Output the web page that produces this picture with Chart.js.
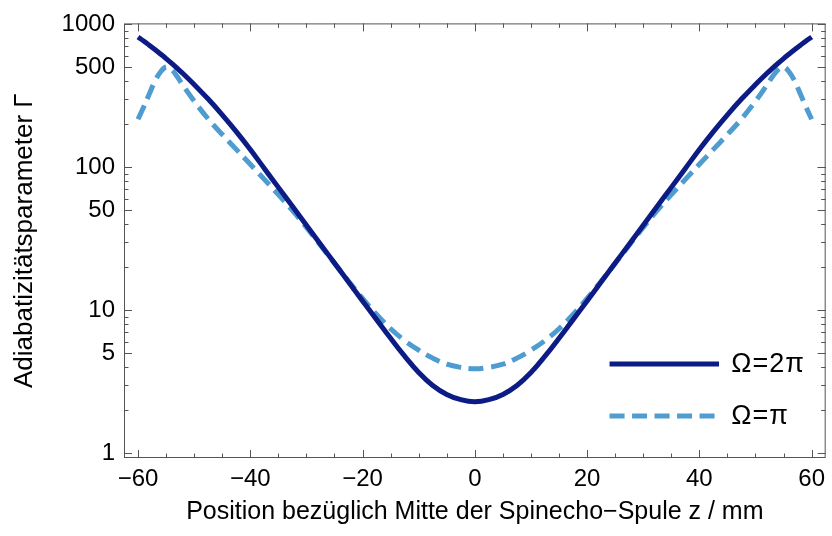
<!DOCTYPE html>
<html>
<head>
<meta charset="utf-8">
<script src="https://cdn.jsdelivr.net/npm/chart.js@4.4.1/dist/chart.umd.min.js"></script>
<style>
  html, body { margin: 0; padding: 0; background: #fff; }
  #c { display: block; }
</style>
</head>
<body>
<canvas id="c" width="832" height="536"></canvas>
<script>
// z position in mm
const positions = [
  -60, -59, -58, -57, -56, -55, -54, -53, -52, -50, -47.5, -45, -42.5, -40, -37.5,
  -35, -32.5, -30, -27.5, -25, -22.5, -20, -17.5, -15, -12.5, -10, -7.5, -5, -2.5,
  0,
  2.5, 5, 7.5, 10, 12.5, 15, 17.5, 20, 22.5, 25, 27.5, 30, 32.5, 35, 37.5,
  40, 42.5, 45, 47.5, 50, 52, 53, 54, 55, 56, 57, 58, 59, 60
];
// adiabaticity parameter, Omega = 2 pi
const gamma2Pi = [
  812, 762, 712, 664, 618, 574, 531, 490, 451, 378, 299, 232, 177, 132.7, 97.8,
  72.1, 53.2, 39.2, 28.9, 21.3, 15.69, 11.56, 8.57, 6.35, 4.76, 3.66, 2.97, 2.57, 2.36,
  2.28,
  2.36, 2.57, 2.97, 3.66, 4.76, 6.35, 8.57, 11.56, 15.69, 21.3, 28.9, 39.2, 53.2, 72.1, 97.8,
  132.7, 177, 232, 299, 378, 451, 490, 531, 574, 618, 664, 712, 762, 812
];
// adiabaticity parameter, Omega = pi
const gammaPi = [
  216, 263, 324, 398, 462, 501, 479, 428, 373, 289, 217, 169, 133, 104.5, 82,
  64.1, 49.7, 37.9, 28.4, 21.2, 15.9, 12.06, 9.31, 7.4, 6.12, 5.24, 4.61, 4.18, 3.97,
  3.88,
  3.97, 4.18, 4.61, 5.24, 6.12, 7.4, 9.31, 12.06, 15.9, 21.2, 28.4, 37.9, 49.7, 64.1, 82,
  104.5, 133, 169, 217, 289, 373, 428, 479, 501, 462, 398, 324, 263, 216
];
const seriesLabels = ['Ω=2π', 'Ω=π'];
const xTickValues = [-60, -40, -20, 0, 20, 40, 60];
const yTickValues = [1, 5, 10, 50, 100, 500, 1000];

const FONT = "'Liberation Sans', Arial, Helvetica, sans-serif";
const toPoints = ys => positions.map((x, i) => ({ x: x, y: ys[i] }));

// Mathematica-like frame with inward ticks on all four sides
const frameTicks = {
  id: 'frameTicks',
  afterDatasetsDraw(chart) {
    const { ctx, chartArea: a, scales: { x, y } } = chart;
    ctx.save();
    ctx.strokeStyle = '#555';
    ctx.lineWidth = 1;
    ctx.strokeRect(a.left + 0.5, a.top + 0.5, a.right - a.left - 1, a.bottom - a.top - 1);
    ctx.beginPath();
    for (let v = -60; v <= 60; v += 5) {
      const px = Math.round(x.getPixelForValue(v)) + 0.5;
      const len = v % 20 === 0 ? 8 : 4.5;
      ctx.moveTo(px, a.bottom); ctx.lineTo(px, a.bottom - len);
      ctx.moveTo(px, a.top); ctx.lineTo(px, a.top + len);
    }
    [1, 10, 100].forEach(d => {
      for (let m = 1; m <= 10; m++) {
        const v = m * d;
        if (v > 1000) continue;
        const py = Math.round(y.getPixelForValue(v)) + 0.5;
        const len = yTickValues.includes(v) ? 8 : 4.5;
        ctx.moveTo(a.left, py); ctx.lineTo(a.left + len, py);
        ctx.moveTo(a.right, py); ctx.lineTo(a.right - len, py);
      }
    });
    ctx.stroke();
    ctx.restore();
  }
};

// legend inside the plot, lower right
const insideLegend = {
  id: 'insideLegend',
  afterDraw(chart) {
    const { ctx, chartArea: a } = chart;
    const w = a.right - a.left, h = a.bottom - a.top;
    ctx.save();
    chart.data.datasets.forEach((ds, i) => {
      const yy = Math.round(a.top + h * (0.783 + i * 0.121));
      ctx.strokeStyle = ds.borderColor;
      ctx.lineWidth = ds.borderWidth;
      ctx.setLineDash(ds.borderDash || []);
      ctx.beginPath();
      ctx.moveTo(a.left + w * 0.692, yy);
      ctx.lineTo(a.left + w * 0.848, yy);
      ctx.stroke();
      ctx.setLineDash([]);
      ctx.fillStyle = '#000';
      ctx.font = '27px ' + FONT;
      ctx.letterSpacing = '1px';
      ctx.textBaseline = 'middle';
      ctx.fillText(ds.label, a.left + w * 0.8656, yy + 1);
    });
    ctx.restore();
  }
};

new Chart(document.getElementById('c'), {
  type: 'line',
  data: {
    datasets: [
      {
        label: seriesLabels[0],
        data: toPoints(gamma2Pi),
        borderColor: '#0c1c84',
        borderWidth: 5,
        borderJoinStyle: 'round',
        tension: 0.4,
        fill: false
      },
      {
        label: seriesLabels[1],
        data: toPoints(gammaPi),
        borderColor: '#4f9cd0',
        borderWidth: 5,
        borderDash: [15, 7.5],
        tension: 0.4,
        fill: false
      }
    ]
  },
  options: {
    responsive: false,
    animation: false,
    layout: { padding: { top: 20, right: 1, left: 0, bottom: 0 } },
    elements: { point: { radius: 0 } },
    plugins: { legend: { display: false }, tooltip: { enabled: false } },
    scales: {
      x: {
        type: 'linear',
        min: -62.5,
        max: 62.5,
        afterBuildTicks: s => { s.ticks = xTickValues.map(v => ({ value: v })); },
        afterFit: s => { s.height = 78; },
        grid: { display: false, drawTicks: false },
        border: { display: false },
        ticks: {
          padding: 7,
          color: '#000',
          maxRotation: 0,
          font: { family: FONT, size: 24 },
          callback: v => String(v).replace('-', '\u2212')
        },
        title: {
          display: true,
          text: 'Position bezüglich Mitte der Spinecho\u2212Spule z / mm',
          color: '#000',
          font: { family: FONT, size: 25 },
          padding: { top: 0, bottom: 9 }
        }
      },
      y: {
        type: 'logarithmic',
        min: 0.923,
        max: 1011,
        afterBuildTicks: s => { s.ticks = yTickValues.map(v => ({ value: v })); },
        afterFit: s => { s.width = 124; },
        grid: { display: false, drawTicks: false },
        border: { display: false },
        ticks: {
          padding: 9,
          color: '#000',
          font: { family: FONT, size: 24 },
          callback: v => String(v)
        },
        title: {
          display: true,
          text: 'Adiabatizitätsparameter Γ',
          color: '#000',
          font: { family: FONT, size: 26 },
          padding: { top: 9, bottom: 0 }
        }
      }
    }
  },
  plugins: [frameTicks, insideLegend]
});
</script>
</body>
</html>
